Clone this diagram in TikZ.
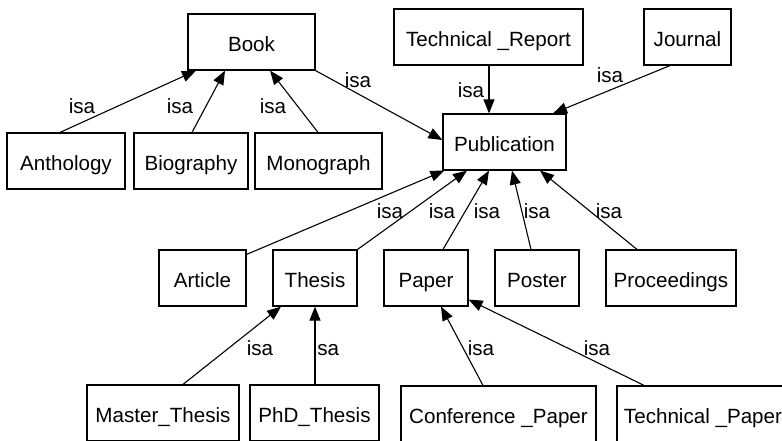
\documentclass[tikz,border=0pt]{standalone}
\usepackage{fontspec}
\setmainfont{Liberation Sans}
\usetikzlibrary{arrows.meta}
\begin{document}
\begin{tikzpicture}[x=1pt,y=-1pt,
  box/.style={draw, line width=1.2pt, inner sep=0pt, minimum height=56pt,
    text height=18pt, text depth=0pt, font=\fontsize{20.6}{24}\selectfont},
  lbl/.style={anchor=base, inner sep=0pt, font=\fontsize{20.6}{24}\selectfont},
  isa/.style={line width=1.1pt, -{Triangle[length=14pt,width=11pt]}}]
\useasboundingbox (0,0) rectangle (782,440);
\clip (0,0) rectangle (782,440);
% nodes
\node[box, minimum width=127pt] (Book) at (251.5,42) {Book};
\node[box, minimum width=118pt] (Anthology) at (66,161) {Anthology};
\node[box, minimum width=114pt] (Biography) at (191,161) {Biography};
\node[box, minimum width=127pt] (Monograph) at (318.5,161) {Monograph};
\node[box, minimum width=189pt] (TechRep) at (488.5,37) {Technical \_Report};
\node[box, minimum width=87pt] (Journal) at (687.5,37) {Journal};
\node[box, minimum width=123pt] (Pub) at (504.5,142) {Publication};
\node[box, minimum width=87pt] (Article) at (202.5,278) {Article};
\node[box, minimum width=84pt] (Thesis) at (315,278) {Thesis};
\node[box, minimum width=84pt] (Paper) at (426,278) {Paper};
\node[box, minimum width=84pt] (Poster) at (537,278) {Poster};
\node[box, minimum width=130pt] (Proc) at (671,278) {Proceedings};
\node[box, minimum width=152pt] (Master) at (163,413) {Master\_Thesis};
\node[box, minimum width=129pt] (PhD) at (314.5,413) {PhD\_Thesis};
\node[box, minimum width=195pt] (Conf) at (498.5,414) {Conference \_Paper};
\node[box, minimum width=172pt] (TechPap) at (703,414) {Technical \_Paper};
% edges
\draw[isa] ([xshift=-6pt]Anthology.north) -- ([xshift=-55.5pt]Book.south);
\draw[isa] ([xshift=1pt]Biography.north) -- ([xshift=-26.5pt]Book.south);
\draw[isa] ([xshift=-0.5pt]Monograph.north) -- ([xshift=18.5pt]Book.south);
\draw[isa] (Book.south east) -- ([yshift=2pt]Pub.west);
\draw[isa] ([xshift=0.5pt]TechRep.south) -- ([xshift=-15.5pt]Pub.north);
\draw[isa] ([xshift=-17.5pt]Journal.south) -- ([xshift=48.5pt]Pub.north);
\draw[isa] ([yshift=-5pt]Article.north east) -- ([xshift=2pt]Pub.south west);
\draw[isa] (Thesis.north east) -- ([xshift=-37.5pt]Pub.south);
\draw[isa] ([xshift=17pt]Paper.north) -- ([xshift=-15.5pt]Pub.south);
\draw[isa] ([xshift=-6pt]Poster.north) -- ([xshift=7.5pt]Pub.south);
\draw[isa] ([xshift=-34pt]Proc.north) -- ([xshift=35.5pt]Pub.south);
\draw[isa] ([xshift=20pt]Master.north) -- ([xshift=-34pt]Thesis.south);
\draw[isa] ([xshift=0.5pt]PhD.north) -- (Thesis.south);
\draw[isa] ([xshift=-15.5pt]Conf.north) -- ([xshift=15pt]Paper.south);
\draw[isa] ([xshift=-59pt]TechPap.north) -- ([yshift=7pt]Paper.south east);
% labels
\node[lbl] (l1) at (82,113) {isa};
\node[lbl] (l2) at (180,113) {isa};
\node[lbl] (l3) at (273,113) {isa};
\node[lbl] (l4) at (358,87) {isa};
\node[lbl] (l5) at (471,97) {isa};
\node[lbl] (l6) at (610,82) {isa};
\node[lbl] (l7) at (390,218) {isa};
\node[lbl] (l8) at (442,218) {isa};
\node[lbl] (l9) at (487,218) {isa};
\node[lbl] (l10) at (537,218) {isa};
\node[lbl] (l11) at (609,218) {isa};
\node[lbl] (l12) at (260,355) {isa};
\node[lbl] (l13) at (326,355) {isa};
\node[lbl] (l14) at (481,355) {isa};
\node[lbl] (l15) at (597,355) {isa};
\end{tikzpicture}
\end{document}
